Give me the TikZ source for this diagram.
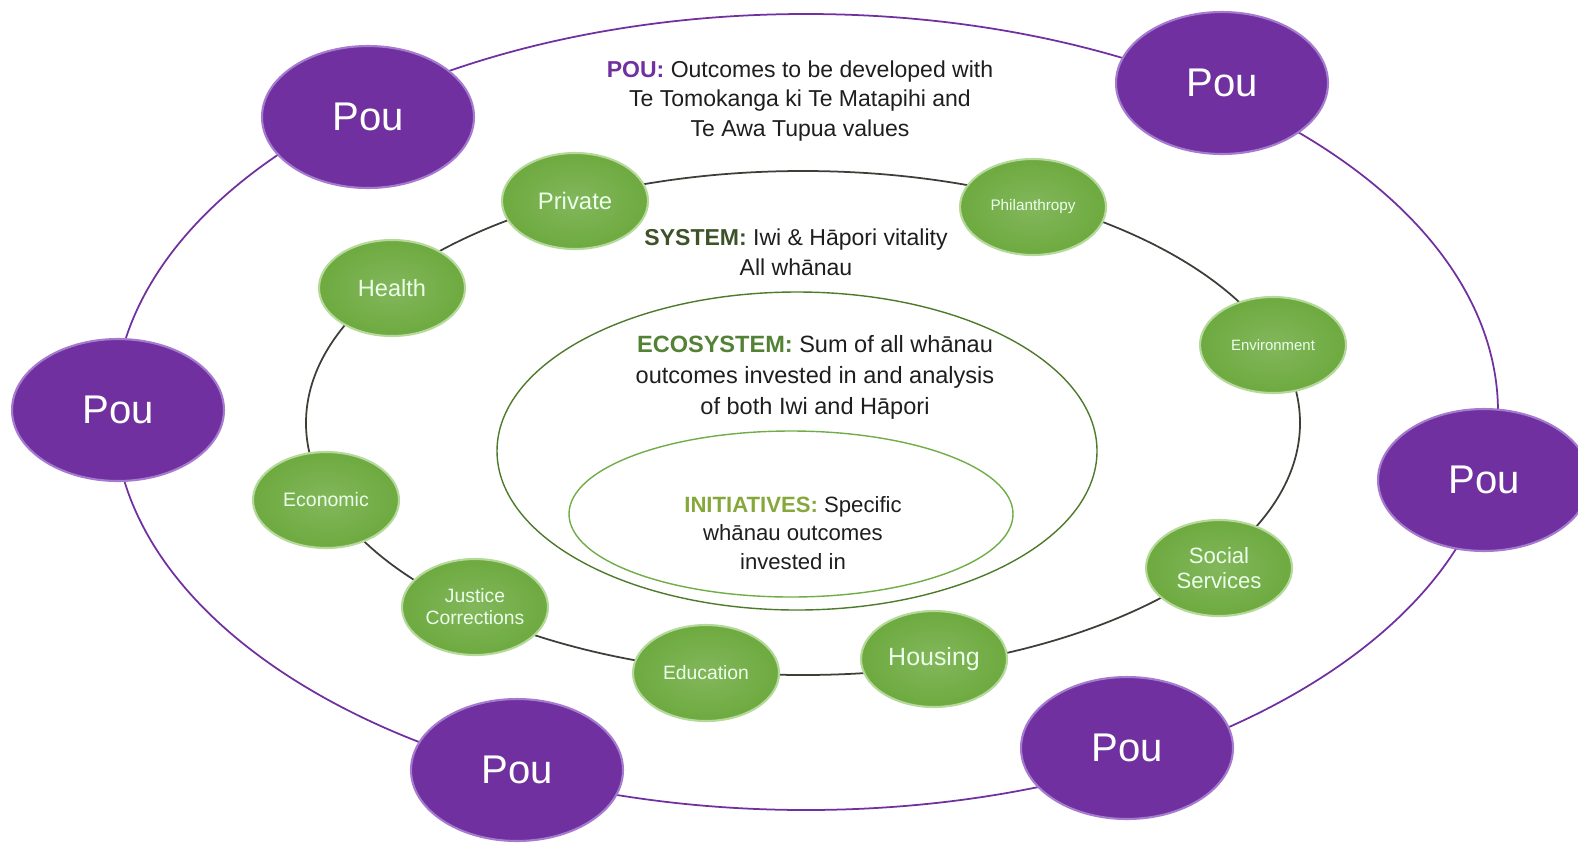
\documentclass[tikz,border=0pt]{standalone}
\usepackage{fontspec}
\setmainfont{Liberation Sans}
\usetikzlibrary{shapes.geometric}
\definecolor{pou}{HTML}{7030A0}
\definecolor{pourim}{HTML}{A57BD0}
\definecolor{grn}{HTML}{6DAA3F}
\definecolor{grnrim}{HTML}{B5D99A}
\definecolor{sysline}{HTML}{3C3F38}
\definecolor{ecoline}{HTML}{4F7A2C}
\definecolor{iniline}{HTML}{70AD47}
\definecolor{syscol}{HTML}{3D5228}
\definecolor{ecocol}{HTML}{548235}
\definecolor{inicol}{HTML}{86A83A}
\definecolor{txt}{HTML}{1E1E1E}
\newcommand{\fs}[1]{\fontsize{#1}{#1}\selectfont}
\begin{document}
\begin{tikzpicture}[x=0.02cm,y=-0.02cm,
  poustyle/.style={ellipse, minimum width=4.24cm, minimum height=2.84cm, fill=pou, draw=pourim, line width=1.2pt, text=white, font=\fs{22.8}, inner sep=0pt},
  sector/.style={ellipse, minimum width=2.92cm, minimum height=1.92cm, shading=radial, inner color=grn!85!white, outer color=grn, draw=grnrim, line width=1.2pt, text=white!92!green, align=center, inner sep=0pt},
  lbl/.style={align=center, text=txt, font=\fontsize{13.1}{17}\selectfont}
]
\useasboundingbox (0,0) rectangle (1578,846);
% rings
\draw[pou, line width=1pt] (806,412) ellipse [x radius=692, y radius=398];
\draw[sysline, line width=1pt] (803,423) ellipse [x radius=497, y radius=252];
\draw[ecoline, line width=0.8pt] (797,451) ellipse [x radius=300, y radius=159];
\draw[iniline, line width=0.8pt] (791,514) ellipse [x radius=222, y radius=83];
% pou nodes
\node[poustyle] (p1) at (368,117) {Pou};
\node[poustyle] (p2) at (1222,83) {Pou};
\node[poustyle] (p3) at (118,410) {Pou};
\node[poustyle] (p4) at (1484,480) {Pou};
\node[poustyle] (p5) at (517,770) {Pou};
\node[poustyle] (p6) at (1127,748) {Pou};
% sector nodes
\node[sector, font=\fs{13.6}] (private) at (575,201) {Private};
\node[sector, font=\fs{8.7}] (phil) at (1033,207) {Philanthropy};
\node[sector, font=\fs{8.5}] (env) at (1273,345) {Environment};
\node[sector, font=\fs{13.4}] (health) at (392,288) {Health};
\node[sector, font=\fs{11.1}] (econ) at (326,500) {Economic};
\node[sector, font=\fontsize{12.6}{14}\selectfont] (social) at (1219,568) {Social\\Services};
\node[sector, font=\fontsize{11}{12.5}\selectfont] (justice) at (475,607) {Justice\\Corrections};
\node[sector, font=\fs{11}] (edu) at (706,673) {Education};
\node[sector, font=\fs{14.2}] (housing) at (934,659) {Housing};
% labels
\node[lbl] (poulbl) at (800,101) {\textbf{\color{pou}POU:} Outcomes to be developed with\\Te Tomokanga ki Te Matapihi and\\Te Awa Tupua values};
\node[lbl] (syslbl) at (796,252) {\textbf{\color{syscol}SYSTEM:} Iwi \& Hāpori vitality\\All whānau};
\node[lbl, font=\fontsize{13.4}{17.6}\selectfont] (ecolbl) at (815,377) {\textbf{\color{ecocol}ECOSYSTEM:} Sum of all whānau\\outcomes invested in and analysis\\of both Iwi and Hāpori};
\node[lbl, font=\fontsize{12.6}{16.2}\selectfont] (inilbl) at (793,533) {\textbf{\color{inicol}INITIATIVES:} Specific\\whānau outcomes\\invested in};
\end{tikzpicture}
\end{document}
